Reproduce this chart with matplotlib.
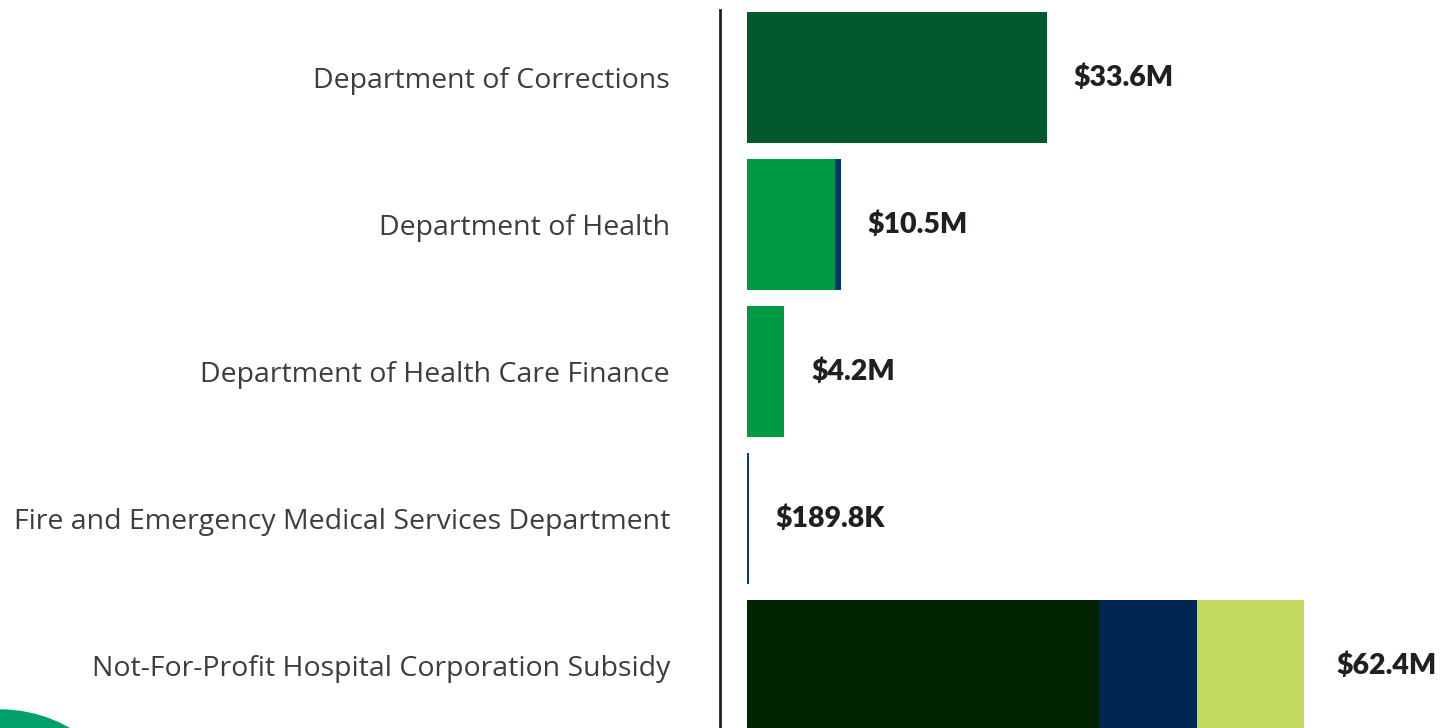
import matplotlib.pyplot as plt
from matplotlib.patches import Ellipse

# data (in $M)
categories = ["Department of Corrections", "Department of Health",
              "Department of Health Care Finance",
              "Fire and Emergency Medical Services Department",
              "Not-For-Profit Hospital Corporation Subsidy"]
seg_a = [33.6, 9.9, 4.2, 0.0, 39.4]      # first segment
seg_b = [0.0, 0.6, 0.0, 0.19, 11.0]      # navy segment
seg_c = [0.0, 0.0, 0.0, 0.0, 12.0]       # lime segment
totals = ["$33.6M", "$10.5M", "$4.2M", "$189.8K", "$62.4M"]

colors_a = ["#005a2e", "#009a44", "#009a44", "#009a44", "#022400"]
colors_b = ["#00337a", "#00337a", "#00337a", "#0b3a78", "#012651"]
color_c = "#c2d960"

fig = plt.figure(figsize=(14.55, 7.28), dpi=100)
ax = fig.add_axes([720 / 1455, 0, 1 - 720 / 1455, 718 / 728])

y = list(range(len(categories)))
h = 131 / 147
ax.barh(y, seg_a, height=h, color=colors_a, left=0)
ax.barh(y, seg_b, height=h, color=colors_b, left=seg_a)
left_c = [a + b for a, b in zip(seg_a, seg_b)]
ax.barh(y, seg_c, height=h, color=color_c, left=left_c)

ends = [a + b + c for a, b, c in zip(seg_a, seg_b, seg_c)]
for i, (e, t) in enumerate(zip(ends, totals)):
    off = 3.6 if i == 4 else 3.0
    ax.text(e + off, i, t, va="center", ha="left", fontsize=20.5,
            fontweight="heavy", family="Lato", color="#231f20")

ax.set_xlim(-3.02, 79.3)
ax.set_ylim(4.425, -0.459)
ax.set_yticks(y)
ax.set_yticklabels(categories, fontsize=20.5, family="Open Sans", color="#3d3d3d")
ax.tick_params(axis="y", length=0, pad=36)
ax.set_xticks([])
for s in ["top", "right", "bottom"]:
    ax.spines[s].set_visible(False)
ax.spines["left"].set_color("#231f20")
ax.spines["left"].set_linewidth(2)

# decorative circle bottom-left
fig.patches.append(Ellipse((0, -122 / 728), 280 / 1455, 280 / 728,
                           transform=fig.transFigure, color="#00a06c"))

fig.savefig("out.png", dpi=100)
